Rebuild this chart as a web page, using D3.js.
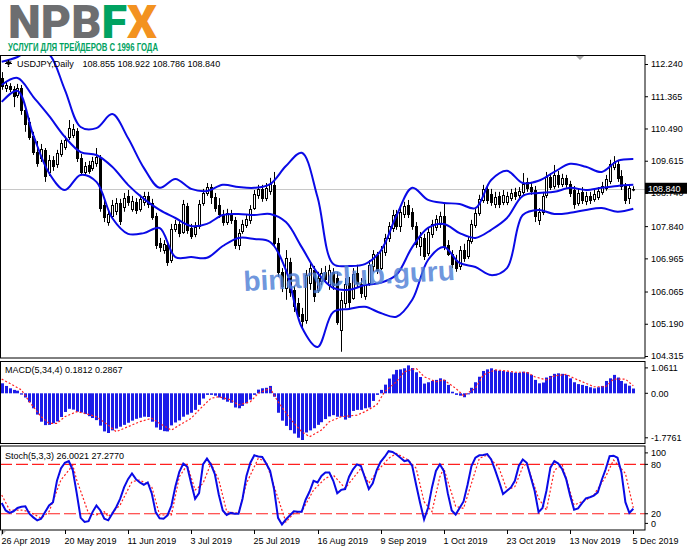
<!DOCTYPE html>
<html><head><meta charset="utf-8">
<script src="https://cdn.jsdelivr.net/npm/d3@7/dist/d3.min.js"></script>
<style>
html,body{margin:0;padding:0;background:#fff;}
body{position:relative;width:691px;height:549px;overflow:hidden;}
svg{display:block;}
text{font-family:"Liberation Sans",Arial,Helvetica,sans-serif;}
#logo{position:absolute;left:8px;top:5.8px;height:33px;line-height:33px;font-size:46px;font-weight:900;
  font-family:Roboto,"Liberation Sans",sans-serif;white-space:nowrap;transform-origin:0 0;}
</style></head><body>
<svg id="chart" width="691" height="549"></svg>
<script>
// ---------------- DATA ----------------
const logoParts = ["NPB","F","X"];
const symbolName = "USDJPY,Daily";
const lastBarText = "108.855 108.922 108.786 108.840";
const macdTitle = "MACD(5,34,4) 0.1812 0.2867";
const stochTitle = "Stoch(5,3,3) 26.0021 27.2770";
const dateLabels = ["26 Apr 2019","20 May 2019","11 Jun 2019","3 Jul 2019","25 Jul 2019","16 Aug 2019","9 Sep 2019","1 Oct 2019","23 Oct 2019","13 Nov 2019","5 Dec 2019"];
const dateIdx = [0,16,32,48,64,80,96,112,128,144,160];
const priceTicks = [112.240,111.365,110.490,109.615,108.740,107.840,106.965,106.065,105.190,104.315];
const lastPrice = 108.840;
const macdTicks = [1.0611,0.00,-1.7761];
const macdTickLabels = ["1.0611","0.00","-1.7761"];
const stochTicks = [100,80,20,0];
const stochLevels = [20,80];

const opens = [
111.86,111.59,111.64,111.56,111.40,111.59,110.99,110.67,110.29,109.85,
109.69,109.91,109.31,109.64,109.53,109.80,109.99,110.26,110.32,110.42,
109.69,109.31,109.50,109.42,109.55,109.69,108.41,107.95,108.12,108.25,
108.47,108.36,108.66,108.31,108.50,108.31,108.50,108.66,108.47,108.12,
107.38,107.19,107.33,106.92,107.76,107.90,107.68,108.39,107.79,107.63,
107.85,108.47,108.74,108.90,108.63,108.41,108.17,107.95,108.17,108.01,
107.33,107.71,107.87,108.01,108.33,108.69,108.85,108.60,108.80,108.96,
107.38,106.60,106.16,106.87,106.11,105.75,105.46,105.29,106.30,106.65,
106.11,106.35,106.60,106.24,106.60,106.43,105.02,105.75,106.30,105.89,
106.57,106.27,105.94,106.30,106.76,107.06,106.70,107.14,107.52,107.79,
108.17,107.85,108.17,108.41,108.23,107.85,107.30,107.52,107.11,107.63,
107.82,107.90,108.12,107.33,107.09,106.92,106.76,107.19,107.03,107.44,
107.87,108.20,108.55,108.85,108.71,108.44,108.66,108.50,108.50,108.60,
108.77,108.69,108.77,109.04,108.90,108.82,108.01,108.23,108.69,109.17,
108.93,109.23,108.98,109.15,108.98,108.82,108.47,108.77,108.52,108.66,
108.58,108.63,108.77,108.88,109.07,109.45,109.53,109.20,108.93,108.60,
108.855];
const highs = [
112.02,111.75,111.72,111.64,111.70,111.67,111.05,110.78,110.40,110.15,
110.07,109.96,109.77,109.74,109.91,110.18,110.29,110.72,110.61,110.50,
109.80,109.58,109.61,109.72,109.96,109.77,108.55,108.28,108.55,108.60,
108.58,108.74,108.82,108.66,108.60,108.69,108.77,108.77,108.58,108.20,
107.52,107.46,107.41,107.90,108.01,108.01,108.55,108.47,107.90,107.95,
108.55,108.85,109.01,108.98,108.74,108.60,108.28,108.31,108.28,108.09,
107.76,108.01,108.14,108.41,108.82,108.96,108.96,109.01,109.15,109.31,
107.52,106.70,107.19,106.98,106.22,105.89,105.62,106.65,106.87,106.76,
106.60,106.70,106.76,106.79,106.70,106.60,106.05,106.43,106.46,106.70,
106.79,106.43,106.38,106.92,107.19,107.14,107.30,107.63,107.95,108.28,
108.28,108.33,108.50,108.55,108.33,107.95,107.68,107.63,107.79,108.01,
108.14,108.23,108.47,107.46,107.19,107.06,107.30,107.36,107.57,108.01,
108.31,108.69,108.96,108.96,108.85,108.77,108.77,108.82,108.77,108.85,
108.88,108.90,109.28,109.15,109.04,108.93,108.33,108.77,109.31,109.28,
109.50,109.34,109.26,109.23,109.07,108.93,108.85,108.90,108.77,108.77,
108.82,108.90,109.04,109.23,109.64,109.74,109.64,109.36,109.01,108.96,
108.922];
const lows = [
111.54,111.48,111.48,111.07,111.32,110.86,110.40,110.18,109.77,109.45,
109.58,109.04,109.20,109.34,109.42,109.72,109.91,110.18,110.23,109.58,
109.23,109.20,109.26,109.34,109.45,108.23,107.95,107.85,108.03,108.14,
107.87,108.23,108.39,108.23,108.17,108.23,108.39,108.33,108.01,107.22,
107.14,107.09,106.76,106.84,107.68,107.54,107.63,107.63,107.49,107.54,
107.76,108.39,108.66,108.44,108.23,108.06,107.85,107.87,107.90,107.22,
107.19,107.63,107.79,107.90,108.28,108.58,108.50,108.52,108.69,107.27,
106.46,106.05,105.84,105.92,105.51,105.29,105.05,105.19,106.11,105.78,
106.03,106.24,106.30,106.11,106.11,105.16,104.43,105.62,105.62,105.84,
106.16,105.89,105.84,106.22,106.60,106.54,106.65,107.03,107.41,107.68,
107.74,107.68,108.06,108.06,107.74,107.25,107.03,106.92,107.03,107.52,
107.71,107.79,107.19,107.03,106.70,106.60,106.65,106.87,106.95,107.36,
107.79,108.12,108.47,108.44,108.39,108.33,108.33,108.41,108.41,108.52,
108.55,108.60,108.69,108.77,108.69,107.95,107.87,108.14,108.60,108.82,
108.85,108.88,108.90,108.88,108.63,108.31,108.39,108.44,108.41,108.44,
108.50,108.55,108.69,108.80,108.98,109.36,109.04,108.82,108.44,108.44,
108.786];
const closes = [
111.64,111.67,111.56,111.37,111.59,110.99,110.61,110.27,109.85,109.55,
109.93,109.20,109.64,109.47,109.83,110.10,110.18,110.50,110.48,109.69,
109.31,109.47,109.34,109.61,109.72,108.33,108.09,108.17,108.41,108.47,
107.98,108.60,108.50,108.52,108.28,108.58,108.66,108.44,108.09,107.33,
107.27,107.36,106.87,107.76,107.90,107.65,108.44,107.74,107.57,107.82,
108.44,108.74,108.90,108.63,108.33,108.17,107.95,108.20,108.01,107.33,
107.65,107.90,108.03,108.31,108.71,108.85,108.60,108.88,108.98,107.38,
106.60,106.22,106.98,106.05,105.67,105.40,105.27,106.51,106.70,105.94,
106.43,106.57,106.41,106.65,106.24,105.24,105.84,106.27,105.78,106.54,
106.30,106.03,106.27,106.79,107.09,106.65,107.19,107.52,107.85,108.14,
107.85,108.23,108.39,108.17,107.85,107.36,107.54,107.03,107.68,107.90,
108.03,108.12,107.30,107.09,106.81,106.70,107.19,106.98,107.46,107.90,
108.20,108.58,108.85,108.55,108.50,108.63,108.44,108.69,108.66,108.74,
108.66,108.80,108.98,108.88,108.80,108.12,108.23,108.66,109.17,108.90,
109.23,108.98,109.15,108.98,108.74,108.44,108.74,108.55,108.66,108.55,
108.71,108.80,108.93,109.12,109.53,109.58,109.15,108.93,108.55,108.88,
108.840];

const bandIdx = [0,4,8,12,16,20,24,28,32,36,40,44,48,52,56,60,64,68,72,76,80,84,88,92,96,100,104,108,112,116,120,124,128,132,136,140,144,148,152,156,160];
const bbUpper = [112.30,112.43,112.68,112.51,111.54,110.53,110.50,110.88,110.23,109.42,108.88,109.12,108.85,108.79,108.96,108.90,108.88,108.98,109.47,109.83,108.63,106.81,106.76,106.81,107.17,108.12,108.88,108.55,108.47,108.44,108.33,109.09,109.34,109.01,109.07,109.31,109.53,109.45,109.31,109.61,109.66];
const bbMiddle = [111.67,111.86,111.35,110.83,110.26,109.85,109.77,109.45,108.96,108.58,108.28,108.06,107.84,107.90,108.14,108.17,108.14,108.17,107.95,107.27,106.57,106.16,106.11,106.24,106.30,106.52,107.27,107.79,107.90,107.65,107.52,107.74,108.06,108.66,108.74,108.77,108.88,108.82,108.88,108.93,108.96];
const bbLower = [111.21,111.51,110.31,109.28,108.82,109.23,109.04,108.06,107.63,107.65,107.79,107.00,107.00,106.98,107.30,107.52,107.49,107.41,106.65,105.10,104.56,105.51,105.59,105.65,105.48,105.38,105.84,106.92,107.27,106.84,106.73,106.51,106.70,108.14,108.28,108.17,108.20,108.28,108.33,108.23,108.31];

const macdHist = [
0.38,0.28,0.19,0.13,0.10,-0.05,-0.16,-0.34,-0.57,-0.81,
-1.08,-1.21,-1.20,-1.14,-1.07,-0.90,-0.71,-0.59,-0.62,-0.70,
-0.73,-0.79,-0.87,-0.94,-1.02,-1.23,-1.45,-1.51,-1.41,-1.34,
-1.27,-1.20,-1.12,-1.04,-0.97,-0.93,-0.89,-0.90,-1.08,-1.30,
-1.39,-1.44,-1.45,-1.22,-1.11,-1.03,-0.89,-0.81,-0.74,-0.63,
-0.44,-0.20,-0.06,-0.06,-0.09,-0.16,-0.24,-0.32,-0.36,-0.54,
-0.57,-0.48,-0.38,-0.24,-0.06,0.14,0.19,0.21,0.28,-0.13,
-0.74,-1.04,-1.24,-1.40,-1.53,-1.69,-1.7761,-1.49,-1.41,-1.33,
-1.20,-1.10,-0.98,-0.88,-0.83,-0.89,-0.89,-1.00,-0.93,-0.67,
-0.63,-0.63,-0.57,-0.54,-0.29,-0.06,0.13,0.33,0.56,0.72,
0.89,0.91,0.95,1.0611,0.96,0.80,0.62,0.37,0.42,0.47,
0.51,0.57,0.51,0.32,0.06,-0.06,-0.09,-0.15,-0.04,0.21,
0.42,0.63,0.85,0.91,0.95,0.89,0.86,0.85,0.82,0.80,
0.78,0.78,0.82,0.80,0.70,0.51,0.38,0.41,0.60,0.66,
0.74,0.76,0.74,0.70,0.57,0.42,0.35,0.32,0.28,0.23,
0.19,0.23,0.28,0.47,0.57,0.70,0.60,0.47,0.37,0.29,
0.1812];
const macdSigIdx = [0,2,5,7,10,12,14,16,19,21,24,27,29,32,35,38,40,43,45,48,50,53,55,58,60,63,65,68,70,73,76,78,81,83,86,90,92,95,97,100,102,105,107,110,112,115,117,120,122,125,128,130,133,135,138,140,143,145,148,150,153,155,158,160];
const macdSig = [0.54,0.38,0.13,-0.32,-0.89,-1.14,-1.14,-0.89,-0.70,-0.76,-0.89,-1.21,-1.46,-1.27,-1.08,-0.95,-1.14,-1.40,-1.21,-0.95,-0.63,-0.19,-0.13,-0.25,-0.44,-0.32,0.00,0.19,-0.32,-0.95,-1.46,-1.65,-1.40,-1.08,-0.89,-0.83,-0.70,-0.44,0.06,0.44,0.82,0.95,0.63,0.44,0.51,0.19,-0.09,0.19,0.70,0.89,0.85,0.80,0.80,0.63,0.51,0.66,0.72,0.57,0.38,0.25,0.25,0.54,0.54,0.2867];

const stochMain = [
33,24,21,23,27,28.5,29,20,15.6,12,
14,22,30,34,60,75,82,84,73,45,
15,10,11,22,30,24,14,12,20,28,
38,52,62,69,62,58,55,58,45,22,
14.5,14,18,30,53,71,81,77,57,38,
45,80,87,80,68,43,24,18.5,21,20,
20,38,66,82,91,89.5,89,81,72,50,
15,7,13,18,23,22.5,22.5,37,47,60,
58,66,70,70,60,45,49,50,65,74,
80,78,64,50,57,73,83,89,96,95,
92,88,84,85,78,55,33,13,27,52,
72,80,72,45,24,19,27,35,55,78,
88,91,91.3,92.5,86,73,59,44,48,52,
60,78,86,82,65,48,22,27,48,76,
84,81,74,62,42,25,26.5,33,38.7,40,
42,46,61,74,90,90.5,88,70,34,21,
26.0021];
const stochSigIdx = [0,2,5,7,10,12,15,18,19,22,24,26,27,30,33,35,38,40,43,45,47,49,51,53,55,57,60,62,65,67,70,72,74,76,79,82,84,87,90,91,93,95,98,100,103,105,107,109,111,112,115,117,119,121,123,126,128,130,132,133,136,138,140,142,145,148,150,153,155,158,160];
const stochSig = [42.8,24.5,24.5,22.5,14.5,22.5,61,79,61,20.5,18.5,22.5,16.4,30.6,59,61,52.9,18.5,18.5,65,79.2,48.8,56.9,81.2,61,22.5,20.5,56.9,87.3,83,38.7,10,20.5,22.5,48.8,63,67,50.9,69,75.2,56.9,71,87.3,93.3,85.3,75.2,34.6,22.5,65,75.2,29,26.5,56.9,87.3,91.3,75.2,48.8,52.9,77,81.2,38.7,24.5,73,79.2,30.6,36.7,42.8,65,85.3,69,27.277];

// ---------------- LAYOUT ----------------
const PX1 = 645;
const main = {top:55, bottom:358};
const macdP = {top:361, bottom:443.5};
const stochP = {top:445.5, bottom:530};

const svg = d3.select("#chart");
const x = d3.scaleLinear().domain([0,160]).range([1.7,633.3]);
const yP = d3.scaleLinear().domain([104.315,112.24]).range([356,64]);
const yM = d3.scaleLinear().domain([-1.7761,1.0611]).range([440,365.4]);
const yS = d3.scaleLinear().domain([0,100]).range([530.2,447.9]);

svg.append("rect").attr("width",691).attr("height",549).attr("fill","#fff");
const defs = svg.append("defs");
function addClip(id,p){defs.append("clipPath").attr("id",id).append("rect").attr("x",0).attr("y",p.top).attr("width",PX1).attr("height",p.bottom-p.top);}
addClip("cm",main); addClip("cd",macdP); addClip("cs",stochP);

// ---------------- LOGO ----------------
const logoColors = ["#6d6e70","#00a261","#f39220"];
const logo = d3.select("body").append("div").attr("id","logo");
logo.selectAll("span").data(logoParts).join("span").style("color",(d,k)=>logoColors[k]).text(d=>d);
const lw = logo.node().getBoundingClientRect().width;
logo.style("transform",`scaleX(${149/lw})`);
svg.append("text").attr("x",8).attr("y",50.5).attr("font-size",10.5).attr("font-weight","bold")
  .attr("fill","#00a261").attr("textLength",150).attr("lengthAdjust","spacingAndGlyphs")
  .text("УСЛУГИ ДЛЯ ТРЕЙДЕРОВ С 1996 ГОДА");

// ---------------- MAIN PANEL ----------------
const gm = svg.append("g").attr("clip-path","url(#cm)");
gm.append("line").attr("x1",0).attr("x2",PX1)
  .attr("y1",Math.round(yP(lastPrice))+0.5).attr("y2",Math.round(yP(lastPrice))+0.5)
  .attr("stroke","#c8c8c8").attr("stroke-width",1);

const idx = d3.range(closes.length);
const cx = i => Math.round(x(i))+0.5;
gm.append("g").selectAll("line").data(idx).join("line")
  .attr("x1",cx).attr("x2",cx)
  .attr("y1",i=>yP(highs[i])).attr("y2",i=>yP(lows[i]))
  .attr("stroke","#000").attr("stroke-width",1);
gm.append("g").selectAll("rect").data(idx).join("rect")
  .attr("x",i=>cx(i)-1).attr("width",2)
  .attr("y",i=>Math.round(yP(Math.max(opens[i],closes[i])))+0.5)
  .attr("height",i=>Math.max(0.5,Math.round(yP(Math.min(opens[i],closes[i])))-Math.round(yP(Math.max(opens[i],closes[i])))))
  .attr("fill",i=>closes[i]>=opens[i]?"#fff":"#000")
  .attr("stroke","#000").attr("stroke-width",1);

const bandLine = d3.line().x((d,k)=>x(bandIdx[k])).y(d=>yP(d)).curve(d3.curveCatmullRom.alpha(0.5));
[bbUpper,bbMiddle,bbLower].forEach(b=>{
  gm.append("path").attr("d",bandLine(b)).attr("fill","none").attr("stroke","#0a0ae6").attr("stroke-width",2);
});

// watermark
svg.append("text").attr("transform","translate(244,291) rotate(-3)")
  .attr("font-size",28).attr("font-weight","bold").attr("fill","#4f7fd6").attr("fill-opacity",0.82)
  .text("binaryclub.guru");

// chart shift marker
svg.append("path").attr("d","M576,56 L584,56 L580,60 Z").attr("fill","#a8a8a8");

svg.append("rect").attr("x",0.5).attr("y",main.top+0.5).attr("width",PX1-0.5).attr("height",main.bottom-main.top-0.5)
  .attr("fill","none").attr("stroke","#000");

// title
svg.append("path").attr("d","M5,63.5 L12,63.5 M8.5,60 L8.5,67 M6.5,62 L10.5,62 L8.5,65 Z").attr("stroke","#000").attr("stroke-width",1.2).attr("fill","#000");
svg.append("text").attr("x",17).attr("y",66.5).attr("font-size",9).attr("fill","#000").text(symbolName);
svg.append("text").attr("x",82.5).attr("y",66.5).attr("font-size",9).attr("fill","#000").text(lastBarText);

// price axis
const axM = svg.append("g").attr("transform",`translate(${PX1},0)`)
  .call(d3.axisRight(yP).tickValues(priceTicks).tickFormat(d3.format(".3f")).tickSize(3).tickPadding(3));
axM.select(".domain").remove();
axM.selectAll("text").attr("font-size",9).attr("fill","#000").style("font-family","'Liberation Sans',Arial,sans-serif");
axM.selectAll("line").attr("stroke","#000");
// current price box
const ly = yP(lastPrice);
svg.append("rect").attr("x",645).attr("y",ly-6.5).attr("width",42).attr("height",11).attr("fill","#000");
svg.append("text").attr("x",648).attr("y",ly+3).attr("font-size",9).attr("fill","#fff").text(d3.format(".3f")(lastPrice));

// ---------------- MACD PANEL ----------------
const gd = svg.append("g").attr("clip-path","url(#cd)");
gd.append("g").selectAll("rect").data(idx).join("rect")
  .attr("x",i=>Math.round(x(i))-1).attr("width",3)
  .attr("y",i=>Math.min(yM(0),yM(macdHist[i])))
  .attr("height",i=>Math.abs(yM(macdHist[i])-yM(0)))
  .attr("fill","#1c1ce8");
gd.append("path").attr("d",d3.line().x((d,k)=>x(macdSigIdx[k])).y(d=>yM(d))(macdSig))
  .attr("fill","none").attr("stroke","#ff2020").attr("stroke-width",1.2).attr("stroke-dasharray","2,2");
svg.append("rect").attr("x",0.5).attr("y",macdP.top+0.5).attr("width",PX1-0.5).attr("height",macdP.bottom-macdP.top-0.5)
  .attr("fill","none").attr("stroke","#000");
svg.append("text").attr("x",5).attr("y",373).attr("font-size",9).attr("fill","#000").text(macdTitle);
const macdOff = [2.5,0,-2.2];
macdTicks.forEach((v,k)=>{
  const yy = yM(v)+macdOff[k];
  svg.append("line").attr("x1",645).attr("x2",648).attr("y1",yy).attr("y2",yy).attr("stroke","#000");
  svg.append("text").attr("x",651).attr("y",yy+3.2).attr("font-size",9).attr("fill","#000").text(macdTickLabels[k]);
});

// ---------------- STOCH PANEL ----------------
const gs = svg.append("g").attr("clip-path","url(#cs)");
stochLevels.forEach(l=>{
  gs.append("line").attr("x1",0).attr("x2",PX1).attr("y1",yS(l)).attr("y2",yS(l))
    .attr("stroke","#ff2020").attr("stroke-width",1.2).attr("stroke-dasharray","12,4");
});
gs.append("path").attr("d",d3.line().x((d,k)=>x(stochSigIdx[k])).y(d=>yS(d))(stochSig))
  .attr("fill","none").attr("stroke","#ff2020").attr("stroke-width",1.2).attr("stroke-dasharray","2,2");
gs.append("path").attr("d",d3.line().x((d,i)=>x(i)).y(d=>yS(d))(stochMain))
  .attr("fill","none").attr("stroke","#0a0ae6").attr("stroke-width",2);
svg.append("rect").attr("x",0.5).attr("y",stochP.top+0.5).attr("width",PX1-0.5).attr("height",stochP.bottom-stochP.top-0.5)
  .attr("fill","none").attr("stroke","#000");
svg.append("text").attr("x",5).attr("y",459).attr("font-size",9).attr("fill","#000").text(stochTitle);
const stochOff = [5,0,0,-6.8];
stochTicks.forEach((v,k)=>{
  const yy = yS(v)+stochOff[k];
  svg.append("line").attr("x1",645).attr("x2",648).attr("y1",yy).attr("y2",yy).attr("stroke","#000");
  svg.append("text").attr("x",651).attr("y",yy+3.2).attr("font-size",9).attr("fill","#000").text(String(v));
});

// ---------------- DATE AXIS ----------------
svg.append("path").attr("d","M1,531 L6,531 L1,536 Z").attr("fill","#b0b0b0");
dateIdx.forEach((di,k)=>{
  const xx = Math.round(x(di))+0.5;
  svg.append("line").attr("x1",xx).attr("x2",xx).attr("y1",530).attr("y2",534).attr("stroke","#000");
  svg.append("text").attr("x",xx-1).attr("y",543.5).attr("font-size",9).attr("fill","#000").text(dateLabels[k]);
});
</script>
</body></html>
